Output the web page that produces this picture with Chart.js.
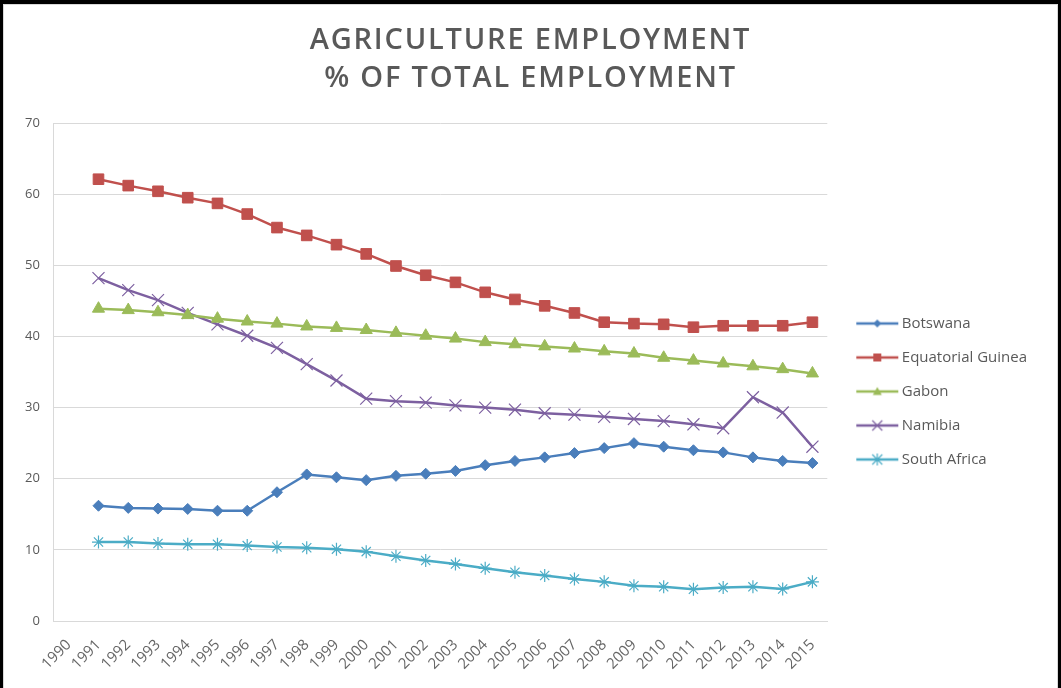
<!DOCTYPE html>
<html>
<head>
<meta charset="utf-8">
<script src="https://cdn.jsdelivr.net/npm/chart.js@4.4.1/dist/chart.umd.min.js"></script>
<style>
  html, body { margin: 0; padding: 0; background: #fff; }
  .frame { position: relative; width: 1061px; height: 688px; overflow: hidden; }
  .frame canvas { position: absolute; left: 0; top: 0; }
  .border {
    position: absolute; left: 0; top: 0; width: 1055px; height: 700px;
    border: 3px solid #000; border-top-width: 4px;
    box-shadow: inset 0 0 0 1px #d9d9d9; pointer-events: none;
  }
  .title {
    position: absolute; left: 0; top: 19px; width: 1061px; text-align: center;
    font: 600 29px/38px 'Open Sans', sans-serif; letter-spacing: 1.8px; color: #595959;
  }
</style>
</head>
<body>
<div class="frame">
  <canvas id="myChart" width="1061" height="688"></canvas>
  <div class="title">AGRICULTURE EMPLOYMENT<br>% OF TOTAL EMPLOYMENT</div>
  <div class="border"></div>
</div>
<script>
const years = ["1990", "1991", "1992", "1993", "1994", "1995", "1996", "1997", "1998", "1999", "2000", "2001", "2002",
  "2003", "2004", "2005", "2006", "2007", "2008", "2009", "2010", "2011", "2012", "2013", "2014", "2015"];

const countries = ["Botswana", "Equatorial Guinea", "Gabon", "Namibia", "South Africa"];

// 1990 has no data in the source sheet
const botswana = [null, 16.2, 15.9, 15.8, 15.75, 15.5, 15.5, 18.1, 20.6, 20.2, 19.8, 20.4, 20.7,
  21.1, 21.9, 22.5, 23.0, 23.6, 24.3, 25.0, 24.5, 24.0, 23.7, 23.0, 22.5, 22.2];
const eqGuinea = [null, 62.1, 61.2, 60.4, 59.5, 58.7, 57.2, 55.3, 54.2, 52.9, 51.6, 49.9, 48.6,
  47.6, 46.2, 45.2, 44.3, 43.3, 42.0, 41.8, 41.7, 41.3, 41.5, 41.5, 41.5, 42.0];
const gabon = [null, 43.9, 43.7, 43.4, 43.0, 42.5, 42.1, 41.8, 41.4, 41.2, 40.9, 40.5, 40.1,
  39.7, 39.2, 38.9, 38.6, 38.3, 37.9, 37.6, 37.0, 36.6, 36.2, 35.8, 35.4, 34.8];
const namibia = [null, 48.2, 46.5, 45.1, 43.3, 41.7, 40.1, 38.4, 36.1, 33.8, 31.25, 30.9, 30.7,
  30.3, 30.0, 29.7, 29.2, 29.0, 28.7, 28.4, 28.1, 27.65, 27.1, 31.45, 29.3, 24.5];
const southAfrica = [null, 11.1, 11.1, 10.9, 10.8, 10.8, 10.6, 10.4, 10.3, 10.1, 9.75, 9.1, 8.5,
  8.0, 7.4, 6.85, 6.4, 5.9, 5.5, 4.95, 4.8, 4.45, 4.7, 4.8, 4.5, 5.5];

const colors = ["#4a7ebb", "#c0504d", "#9bbb59", "#7d60a0", "#4bacc6"];
const shapes = ["rectRot", "rect", "triangle", "crossRot", "star"];

Chart.defaults.font.family = "'Open Sans', sans-serif";
Chart.defaults.color = "#595959";

//legend icons: short line with the marker in the middle
const makeIcon = (color, shape) => {
  const c = document.createElement("canvas");
  c.width = 60;
  c.height = 14;
  const g = c.getContext("2d");
  g.strokeStyle = color;
  g.fillStyle = color;
  g.lineWidth = 2.5;
  g.beginPath();
  g.moveTo(16, 7);
  g.lineTo(58, 7);
  g.stroke();
  const x = 37, y = 7;
  g.beginPath();
  if (shape == "rectRot") {
    g.moveTo(x - 4, y); g.lineTo(x, y - 4); g.lineTo(x + 4, y); g.lineTo(x, y + 4);
    g.closePath(); g.fill();
  } else if (shape == "rect") {
    g.fillRect(x - 4, y - 4, 8, 8);
  } else if (shape == "triangle") {
    g.moveTo(x - 4.5, y + 3.5); g.lineTo(x, y - 4.5); g.lineTo(x + 4.5, y + 3.5);
    g.closePath(); g.fill();
  } else {
    g.lineWidth = 1.2;
    g.moveTo(x - 5, y - 5); g.lineTo(x + 5, y + 5);
    g.moveTo(x + 5, y - 5); g.lineTo(x - 5, y + 5);
    if (shape == "star") {
      g.moveTo(x, y - 6); g.lineTo(x, y + 6);
    }
    g.stroke();
  }
  return c;
};
const legendIcons = colors.map((c, i) => makeIcon(c, shapes[i]));

const series = [botswana, eqGuinea, gabon, namibia, southAfrica];
const radii = [5.5, 7.5, 7, 8.5, 6.5];

const data = {
  labels: years,
  datasets: series.map((values, i) => ({
    label: countries[i],
    data: values,
    borderColor: colors[i],
    backgroundColor: colors[i],
    borderWidth: 2.5,
    pointStyle: shapes[i],
    pointRadius: radii[i],
    pointHoverRadius: radii[i],
    pointBorderWidth: i >= 3 ? 1.2 : 1,
    tension: 0,
  })),
};

//nudge the legend block up a little so it sits where excel put it
const legendShift = {
  id: "legendShift",
  afterLayout: (chart) => {
    chart.legend.bottom -= 28;
  },
};

const config = {
  type: "line",
  data: data,
  plugins: [legendShift],
  options: {
    responsive: false,
    animation: false,
    layout: {
      padding: { top: 123, bottom: 0, left: 11, right: 24 },
    },
    scales: {
      x: {
        offset: true,
        grid: { display: false },
        border: { display: true, color: "#d9d9d9" },
        ticks: {
          autoSkip: false,
          minRotation: 45,
          maxRotation: 45,
          padding: 7,
          color: "#666666",
          font: { size: 15 },
        },
        afterFit: (scale) => {
          scale.height = 67;
        },
      },
      y: {
        min: 0,
        max: 70,
        grid: { color: "#d9d9d9", drawTicks: false },
        border: { display: true, color: "#d9d9d9" },
        ticks: { stepSize: 10, padding: 14, font: { size: 13 } },
      },
    },
    plugins: {
      legend: {
        position: "right",
        labels: {
          usePointStyle: true,
          pointStyleWidth: 48,
          padding: 19,
          font: { size: 15 },
          generateLabels: (chart) => {
            const items = Chart.defaults.plugins.legend.labels.generateLabels(chart);
            items.forEach((it, i) => { it.pointStyle = legendIcons[i]; });
            return items;
          },
        },
      },
      tooltip: { enabled: false },
    },
  },
};

const myChart = new Chart(document.getElementById("myChart"), config);
</script>
</body>
</html>
